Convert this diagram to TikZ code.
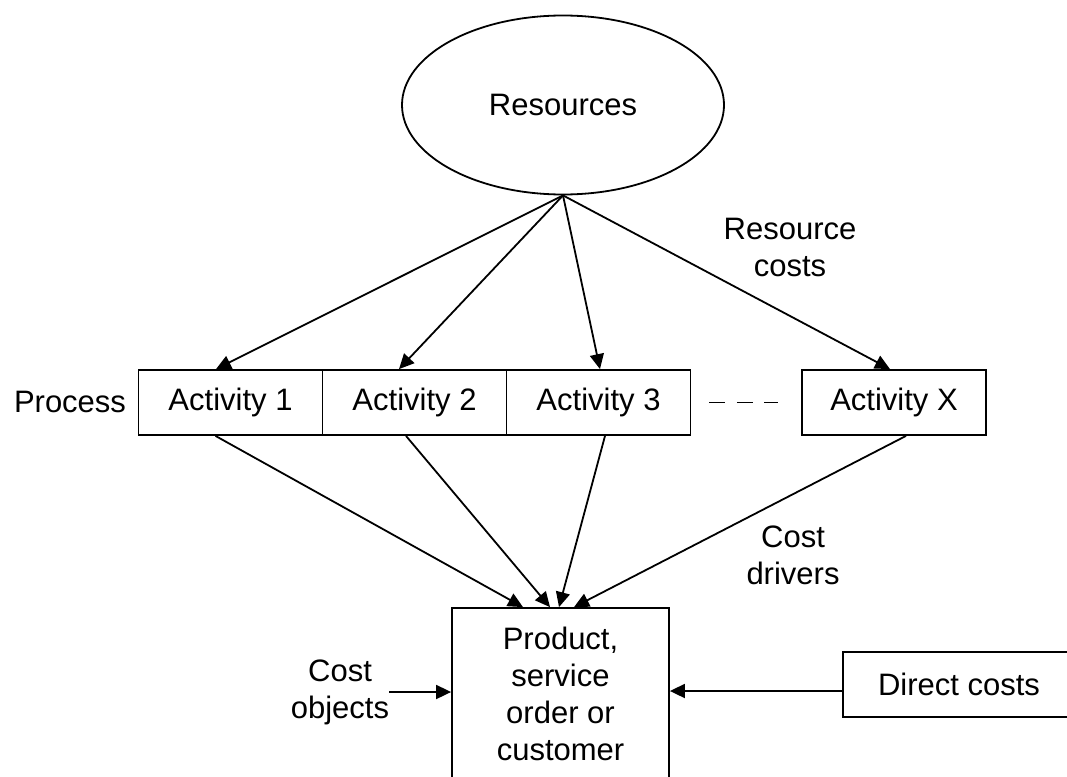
\documentclass[tikz,border=0pt]{standalone}
\usepackage{fontspec}
\setmainfont{Liberation Sans}
\usetikzlibrary{arrows.meta,positioning,shapes.geometric}
\usetikzlibrary{calc}

\begin{document}
\begin{tikzpicture}[x=1pt,y=-1pt,font=\fontsize{31}{37}\selectfont,
  box/.style={draw,line width=1.8pt,minimum width=184pt,minimum height=65pt,inner sep=0pt},
  arr/.style={line width=1.8pt,-{Triangle[length=15pt,width=14pt]}},
  lbl/.style={align=center,inner sep=0pt}]

\useasboundingbox (0,0) rectangle (1067,776);

\node[draw,ellipse,line width=1.8pt,minimum width=322pt,minimum height=179pt] (res) at (563,105) {Resources};

\node[box] (a1) at (230.5,402.5) {Activity 1};
\node[box] (a2) at (414.5,402.5) {Activity 2};
\node[box] (a3) at (598.5,402.5) {Activity 3};
\node[box] (ax) at (894,402.5) {Activity X};
\node[lbl] (proc) at (70,402) {Process};

\node[draw,line width=1.8pt,minimum width=217pt,minimum height=172pt,align=center] (prod) at (560.5,694) {Product,\\service\\order or\\customer};
\node[draw,line width=1.8pt,minimum width=232pt,minimum height=65pt] (dc) at (959,684.5) {Direct costs};

\node[lbl] (rc) at (790,247.5) {Resource\\costs};
\node[lbl] (cd) at (793,555) {Cost\\drivers};
\node[lbl] (co) at (340,692) {Cost\\objects};

\draw[arr] (res.south) -- ([xshift=-14.5pt]a1.north);
\draw[arr] (res.south) -- ([xshift=-15.5pt]a2.north);
\draw[arr] (res.south) -- ([xshift=1.5pt]a3.north);
\draw[arr] (res.south) -- ([xshift=-4pt]ax.north);

\draw[line width=1.5pt,dash pattern=on 16pt off 11.5pt] ([xshift=18pt]a3.east) -- ([xshift=-23pt]ax.west);

\draw[arr] ([xshift=-15pt]a1.south) -- ([xshift=-37.5pt]prod.north);
\draw[arr] ([xshift=-8.5pt]a2.south) -- ([xshift=-10.5pt]prod.north);
\draw[arr] ([xshift=6.5pt]a3.south) -- ([xshift=-1.5pt]prod.north);
\draw[arr] ([xshift=12pt]ax.south) -- ([xshift=13.5pt]prod.north);

\draw[arr] (co.east) -- (co.east -| prod.west);
\coordinate (dcin) at ([yshift=-6.5pt]dc.west);
\draw[arr] (dcin) -- (dcin -| prod.east);
\end{tikzpicture}
\end{document}
